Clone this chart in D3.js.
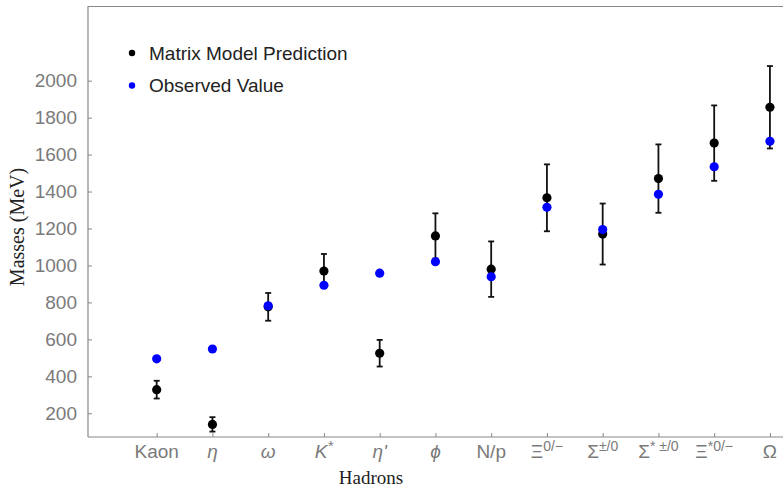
<!DOCTYPE html>
<html>
<head>
<meta charset="utf-8">
<script src="https://cdn.jsdelivr.net/npm/d3@7"></script>
<style>
  html, body { margin: 0; padding: 0; background: #fff; }
  svg { display: block; }
</style>
</head>
<body>
<svg id="chart" width="783" height="489"></svg>
<script>
// ---- data ----
const categories = ["Kaon", "η", "ω", "K*", "η'", "ϕ", "N/p", "Ξ0/−", "Σ±/0", "Σ*±/0", "Ξ*0/−", "Ω"];
// label parts: main text, superscript, italic flag
const labelMain = ["Kaon", "η", "ω", "K", "η", "ϕ", "N/p", "Ξ", "Σ", "Σ", "Ξ", "Ω"];
const labelSup  = ["", "", "", "*", "'", "", "", "0/−", "±/0", "* ±/0", "*0/−", ""];
const labelItalic = [false, true, true, true, true, true, false, false, false, false, false, false];
const predicted = [328, 140, 776, 970, 525, 1160, 980, 1366, 1170, 1470, 1662, 1856];
const predErr   = [ 48,  39,  75,  92,  72,  122, 150,  181,  165,  185,  204,  223];
const observed  = [495, 548, 782, 893, 958, 1020, 939, 1315, 1194, 1385, 1534, 1672];
const yTicks = [200, 400, 600, 800, 1000, 1200, 1400, 1600, 1800, 2000];
const seriesNames = ["Matrix Model Prediction", "Observed Value"];

// ---- layout ----
const svg = d3.select("#chart");
const mLeft = 88, mTop = 6, mBottom = 437;
const x = d3.scaleLinear().domain([-1.232, 11.5]).range([mLeft, mLeft + 55.75 * 12.732]);
const y = d3.scaleLinear().domain([71.7, 2404]).range([mBottom, mTop]);
const axisColor = "#888";
const tickTextColor = "#7a7a7a";
const sans = "'Liberation Sans', Arial, sans-serif";
const serif = "'Liberation Serif', 'Times New Roman', serif";

// frame: top line
svg.append("line").attr("x1", mLeft).attr("x2", 790).attr("y1", mTop + 0.5).attr("y2", mTop + 0.5)
  .attr("stroke", axisColor).attr("stroke-width", 1.2);

// y axis (ticks inward)
const yAxis = d3.axisLeft(y).tickValues(yTicks).tickSize(-4).tickPadding(11).tickFormat(d3.format("d"));
const gy = svg.append("g").attr("transform", `translate(${mLeft},0)`).call(yAxis);
gy.select(".domain").attr("d", `M0,${mTop}V${mBottom}`).attr("stroke", axisColor).attr("stroke-width", 1.2);
gy.selectAll(".tick line").attr("stroke", axisColor);
gy.selectAll(".tick text").attr("fill", tickTextColor).style("font-family", sans).style("font-size", "19px");

// x axis (ticks inward)
const xAxis = d3.axisBottom(x).tickValues(d3.range(categories.length)).tickSize(-4).tickPadding(8).tickFormat(() => "");
const gx = svg.append("g").attr("transform", `translate(0,${mBottom})`).call(xAxis);
gx.select(".domain").attr("d", `M${mLeft},0H790`).attr("stroke", axisColor).attr("stroke-width", 1.2);
gx.selectAll(".tick line").attr("stroke", axisColor);
gx.selectAll(".tick text").remove();

// x tick labels with superscripts
const xl = svg.append("g");
categories.forEach((c, i) => {
  const t = xl.append("text")
    .attr("x", x(i)).attr("y", mBottom + 21)
    .attr("text-anchor", "middle")
    .attr("fill", tickTextColor)
    .style("font-family", sans).style("font-size", "19px");
  t.append("tspan").text(labelMain[i]).style("font-style", labelItalic[i] ? "italic" : "normal");
  if (labelSup[i]) {
    t.append("tspan").text(labelSup[i])
      .attr("dy", labelSup[i] === "'" ? "0" : "-7")
      .style("font-size", labelSup[i] === "'" ? "19px" : "14px")
      .style("font-style", labelItalic[i] ? "italic" : "normal");
  }
});

// axis titles
svg.append("text")
  .attr("transform", `translate(24,227) rotate(-90)`)
  .attr("text-anchor", "middle")
  .attr("fill", "#222")
  .style("font-family", serif).style("font-size", "20px")
  .text("Masses (MeV)");
svg.append("text")
  .attr("x", 371).attr("y", 484)
  .attr("text-anchor", "middle")
  .attr("fill", "#222")
  .style("font-family", serif).style("font-size", "19px")
  .text("Hadrons");

// error bars
const eb = svg.append("g").attr("stroke", "#111").attr("stroke-width", 1.8);
predicted.forEach((v, i) => {
  const cx = x(i), y1 = y(v - predErr[i]), y2 = y(v + predErr[i]);
  eb.append("line").attr("x1", cx).attr("x2", cx).attr("y1", y1).attr("y2", y2);
  eb.append("line").attr("x1", cx - 3).attr("x2", cx + 3).attr("y1", y1).attr("y2", y1);
  eb.append("line").attr("x1", cx - 3).attr("x2", cx + 3).attr("y1", y2).attr("y2", y2);
});

// predicted points
svg.append("g").selectAll("circle").data(predicted).join("circle")
  .attr("cx", (d, i) => x(i)).attr("cy", d => y(d)).attr("r", 4.6).attr("fill", "#000");

// observed points
svg.append("g").selectAll("circle").data(observed).join("circle")
  .attr("cx", (d, i) => x(i)).attr("cy", d => y(d)).attr("r", 4.6).attr("fill", "#0000ff");

// legend
const legendColors = ["#000", "#0000ff"];
const lg = svg.append("g");
seriesNames.forEach((n, i) => {
  const ly = 53 + i * 32.5;
  lg.append("circle").attr("cx", 132).attr("cy", ly).attr("r", 3.2).attr("fill", legendColors[i]);
  lg.append("text").attr("x", 149).attr("y", ly + 6.5)
    .attr("fill", "#222")
    .style("font-family", sans).style("font-size", "19px")
    .text(n);
});
</script>
</body>
</html>
